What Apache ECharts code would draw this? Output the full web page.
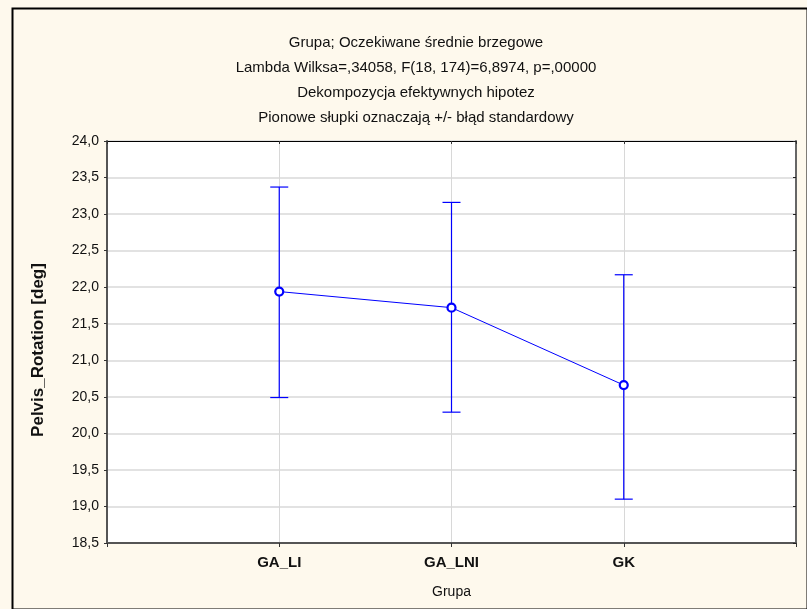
<!DOCTYPE html>
<html>
<head>
<meta charset="utf-8">
<script src="https://cdn.jsdelivr.net/npm/echarts@6/dist/echarts.min.js"></script>
<style>
  html, body { margin: 0; padding: 0; background: #fef9ed; }
  #chart { width: 807px; height: 609px; }
</style>
</head>
<body>
<div id="chart"></div>
<script>
// dane
var groups = ['GA_LI', 'GA_LNI', 'GK'];
var means = [21.94, 21.72, 20.66];
var lower = [20.49, 20.29, 19.10];
var upper = [23.37, 23.16, 22.17];
var yTicks = { min: 18.5, max: 24.0, step: 0.5 };

var titleLines = [
  'Grupa; Oczekiwane średnie brzegowe',
  'Lambda Wilksa=,34058, F(18, 174)=6,8974, p=,00000',
  'Dekompozycja efektywnych hipotez',
  'Pionowe słupki oznaczają +/- błąd standardowy'
];

var chart = echarts.init(document.getElementById('chart'));

var meanData = means.map(function (v, i) { return [i + 1, v]; });
var errData = groups.map(function (g, i) { return [i + 1, lower[i], upper[i]]; });

function fmtY(v) { return v.toFixed(1).replace('.', ','); }

var option = {
  backgroundColor: '#fef9ed',
  animation: false,
  textStyle: { fontFamily: 'Liberation Sans, Arial, sans-serif' },
  title: {
    text: titleLines.join('\n'),
    left: 411,
    textAlign: 'center',
    top: 25,
    textStyle: { fontSize: 15, fontWeight: 'normal', color: '#111', lineHeight: 25 }
  },
  graphic: [{
    type: 'rect',
    left: 10, top: 6,
    shape: { width: 795, height: 601 },
    style: { fill: 'none', stroke: '#000', lineWidth: 2 },
    z: -1
  }],
  grid: {
    left: 107, right: 11, top: 141, bottom: 66,
    show: true, backgroundColor: '#ffffff', borderWidth: 0
  },
  xAxis: [{
    type: 'value', min: 0, max: 4, interval: 1,
    name: 'Grupa', nameLocation: 'middle', nameGap: 42,
    nameTextStyle: { fontSize: 14, color: '#111' },
    axisLine: { show: true, onZero: false, lineStyle: { color: '#555', width: 2 } },
    axisTick: { show: true, length: 4, lineStyle: { color: '#333' } },
    axisLabel: {
      fontSize: 15, fontWeight: 'bold', color: '#111', margin: 12,
      formatter: function (v) { return groups[v - 1] || ''; }
    },
    splitLine: { show: true, lineStyle: { color: '#d8d8d8', width: 1 } }
  }, {
    type: 'value', min: 0, max: 4, interval: 1, position: 'top',
    axisLine: { show: true, onZero: false, lineStyle: { color: '#000', width: 1 } },
    axisTick: { show: true, inside: true, length: 3, lineStyle: { color: '#333' } },
    axisLabel: { show: false },
    splitLine: { show: false }
  }],
  yAxis: [{
    type: 'value', min: yTicks.min, max: yTicks.max, interval: yTicks.step,
    name: 'Pelvis_Rotation [deg]', nameLocation: 'middle', nameGap: 60,
    nameTextStyle: { fontSize: 17, fontWeight: 'bold', color: '#111', padding: [0, 16, 0, 0] },
    axisLine: { show: true, onZero: false, lineStyle: { color: '#555', width: 2 } },
    axisTick: { show: true, length: 3, lineStyle: { color: '#333' } },
    axisLabel: { fontSize: 14, color: '#111', margin: 8, formatter: fmtY },
    splitLine: { show: true, lineStyle: { color: '#d8d8d8', width: 1.5 } }
  }, {
    type: 'value', min: yTicks.min, max: yTicks.max, interval: yTicks.step, position: 'right',
    axisLine: { show: true, onZero: false, lineStyle: { color: '#666', width: 2 } },
    axisTick: { show: true, inside: true, length: 3, lineStyle: { color: '#222' } },
    axisLabel: { show: false },
    splitLine: { show: false }
  }],
  series: [{
    type: 'custom',
    name: 'blad',
    data: errData,
    z: 3,
    renderItem: function (params, api) {
      var x = api.value(0);
      var lo = api.coord([x, api.value(1)]);
      var hi = api.coord([x, api.value(2)]);
      var hw = 9;
      var st = { stroke: '#0000ff', lineWidth: 1.2 };
      return {
        type: 'group',
        children: [
          { type: 'line', shape: { x1: lo[0], y1: lo[1], x2: hi[0], y2: hi[1] }, style: st },
          { type: 'line', shape: { x1: hi[0] - hw, y1: hi[1], x2: hi[0] + hw, y2: hi[1] }, style: st },
          { type: 'line', shape: { x1: lo[0] - hw, y1: lo[1], x2: lo[0] + hw, y2: lo[1] }, style: st }
        ]
      };
    }
  }, {
    type: 'line',
    name: 'srednia',
    data: meanData,
    z: 4,
    symbol: 'circle',
    symbolSize: 8,
    lineStyle: { color: '#0000ff', width: 1 },
    itemStyle: { color: '#ffffff', borderColor: '#0000ff', borderWidth: 2.2 }
  }]
};

chart.setOption(option);
</script>
</body>
</html>
